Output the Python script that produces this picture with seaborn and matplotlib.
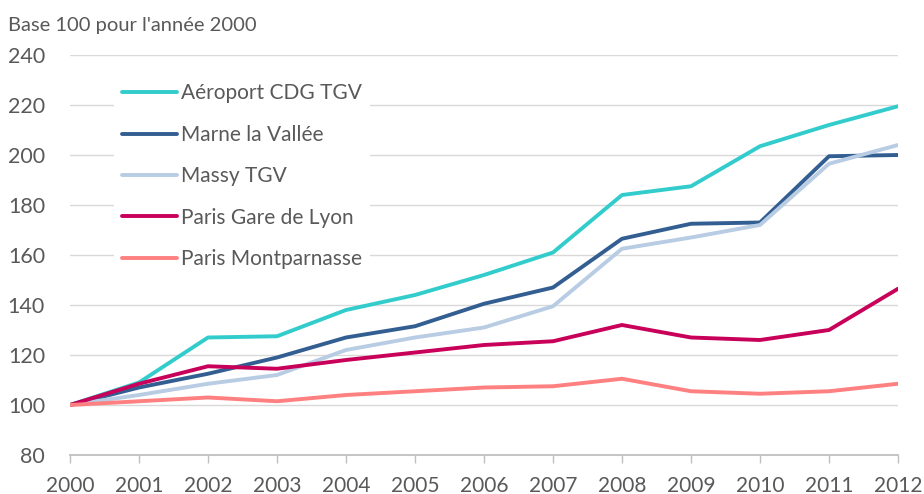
import matplotlib
matplotlib.use("Agg")
import matplotlib.pyplot as plt
import seaborn as sns
import pandas as pd

years = list(range(2000, 2013))
cdg = [100, 109, 127, 127.5, 138, 144, 152, 161, 184, 187.5, 203.5, 212, 219.5]
marne = [100, 107, 112.5, 119, 127, 131.5, 140.5, 147, 166.5, 172.5, 173, 199.5, 200]
massy = [100, 104, 108.5, 112, 122, 127, 131, 139.5, 162.5, 167, 172, 196.5, 204]
gare_lyon = [100, 108.5, 115.5, 114.5, 118, 121, 124, 125.5, 132, 127, 126, 130, 146.5]
montparnasse = [100, 101.5, 103, 101.5, 104, 105.5, 107, 107.5, 110.5, 105.5, 104.5, 105.5, 108.5]

names = ["Aéroport CDG TGV", "Marne la Vallée", "Massy TGV", "Paris Gare de Lyon", "Paris Montparnasse"]
series = [cdg, marne, massy, gare_lyon, montparnasse]
colors = ["#33CCCC", "#335E91", "#B8CCE4", "#C8005A", "#FF8080"]
yticks = [80, 100, 120, 140, 160, 180, 200, 220, 240]
title = "Base 100 pour l'année 2000"

rows = []
for n, s in zip(names, series):
    for y, v in zip(years, s):
        rows.append({"year": y, "value": v, "station": n})
df = pd.DataFrame(rows)

sns.set_style("white")
plt.rcParams["font.family"] = ["Lato", "DejaVu Sans"]
txt = "#595959"

fig = plt.figure(figsize=(9.24, 4.94), dpi=100)
ax = fig.add_axes([70/924, 1-455/494, (898-70)/924, 400/494])

sns.lineplot(data=df, x="year", y="value", hue="station", hue_order=names,
             palette=dict(zip(names, colors)), linewidth=2.8, ax=ax,
             solid_capstyle="round", solid_joinstyle="round")

ax.set_xlim(2000, 2012)
ax.set_ylim(80, 240)
ax.set_yticks(yticks)
ax.set_xticks(years)
ax.set_xlabel("")
ax.set_ylabel("")
for y in yticks[1:]:
    ax.axhline(y, color="#D9D9D9", lw=1, zorder=0)
for sp in ["top", "right", "left"]:
    ax.spines[sp].set_visible(False)
ax.spines["bottom"].set_color("#BFBFBF")
ax.spines["bottom"].set_linewidth(1.3)
ax.tick_params(axis="x", direction="out", length=6, width=1, color="#BFBFBF",
               pad=9, labelsize=15, labelcolor=txt, bottom=True)
ax.tick_params(axis="y", length=0, pad=18, labelsize=15.5, labelcolor=txt)
for lab in ax.get_yticklabels():
    lab.set_horizontalalignment("right")

leg = ax.legend(loc="upper left", bbox_to_anchor=(114/924, 1-75/494),
                bbox_transform=fig.transFigure, fontsize=15, frameon=True,
                facecolor="white", edgecolor="none", framealpha=1, fancybox=False,
                handlelength=2.6, handletextpad=0.2, labelspacing=1.03,
                borderpad=0.4, borderaxespad=0)
for t in leg.get_texts():
    t.set_color(txt)
for h in leg.get_lines():
    h.set_linewidth(2.8)

fig.text(8/924, 1-25/494, title, fontsize=14.5, color=txt, va="center", ha="left")

fig.savefig("out.png", dpi=100)
